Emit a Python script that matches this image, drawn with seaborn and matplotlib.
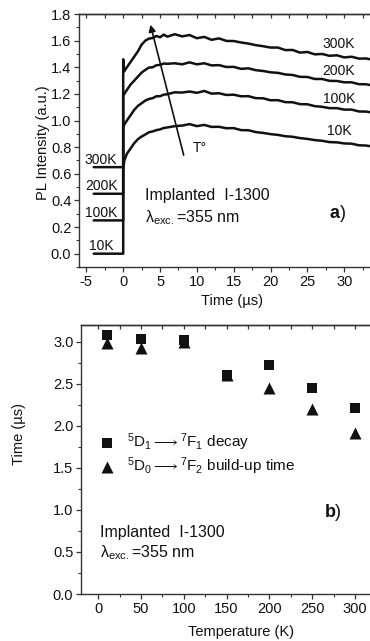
import matplotlib
matplotlib.use("Agg")
import matplotlib.pyplot as plt
import matplotlib.ticker as mticker
import pandas as pd
import seaborn as sns

# panel a) time-resolved PL, curves offset by temperature
TIME = [-4, 0, 0, 0.15, 0.5, 1.0, 1.5, 2.0, 2.5, 3.0, 3.5, 4.0, 4.5, 5, 5.5, 6,
        7, 8, 9, 10, 11, 12, 13, 14, 15, 16, 17, 18, 19, 20, 21, 22, 23, 24, 25,
        26, 27, 28, 29, 30, 31, 32, 33, 34, 35]
INT_300K = [0.65, 0.65, 1.46, 1.37, 1.40, 1.44, 1.48, 1.52, 1.57, 1.60, 1.615, 1.62, 1.635, 1.625, 1.645, 1.63,
            1.648, 1.632, 1.642, 1.618, 1.628, 1.606, 1.617, 1.598, 1.597, 1.586, 1.578, 1.566, 1.558, 1.548,
            1.548, 1.529, 1.53, 1.51, 1.515, 1.497, 1.5, 1.486, 1.49, 1.474, 1.479, 1.465, 1.466, 1.454, 1.456]
INT_200K = [0.45, 0.45, 1.19, 1.20, 1.23, 1.27, 1.30, 1.33, 1.36, 1.38, 1.398, 1.40, 1.415, 1.418, 1.428, 1.426,
            1.43, 1.422, 1.437, 1.422, 1.43, 1.414, 1.416, 1.402, 1.403, 1.388, 1.392, 1.378, 1.372, 1.362,
            1.358, 1.346, 1.342, 1.328, 1.327, 1.312, 1.312, 1.298, 1.297, 1.287, 1.287, 1.273, 1.272, 1.262, 1.262]
INT_100K = [0.25, 0.25, 0.95, 0.97, 1.00, 1.04, 1.08, 1.11, 1.13, 1.15, 1.162, 1.168, 1.182, 1.183, 1.194, 1.198,
            1.212, 1.21, 1.218, 1.208, 1.222, 1.202, 1.205, 1.192, 1.194, 1.182, 1.183, 1.168, 1.167, 1.152,
            1.153, 1.138, 1.137, 1.123, 1.122, 1.108, 1.103, 1.093, 1.093, 1.082, 1.082, 1.068, 1.067, 1.058, 1.056]
INT_10K = [0.0, 0.0, 0.63, 0.70, 0.75, 0.79, 0.83, 0.86, 0.88, 0.895, 0.912, 0.918, 0.928, 0.933, 0.944, 0.948,
           0.958, 0.962, 0.973, 0.958, 0.967, 0.952, 0.953, 0.942, 0.943, 0.928, 0.927, 0.913, 0.907, 0.898,
           0.892, 0.882, 0.878, 0.868, 0.862, 0.853, 0.848, 0.838, 0.836, 0.828, 0.826, 0.814, 0.812, 0.803, 0.801]
CURVE_LABELS = ["300K", "200K", "100K", "10K"]
BASELINES = [0.65, 0.45, 0.25, 0.0]
RIGHT_LABEL_Y = [1.575, 1.37, 1.16, 0.925]

# panel b) lifetimes vs temperature
TEMP = [10, 50, 100, 150, 200, 250, 300]
DECAY = [3.08, 3.03, 3.02, 2.60, 2.72, 2.45, 2.21]
BUILDUP = [2.98, 2.93, 3.00, 2.60, 2.45, 2.20, 1.92]

INK = "#111111"
SPINE = "#333333"

sns.set_style("ticks")
plt.rcParams.update({
    "font.family": ["Liberation Sans", "DejaVu Sans"],
    "mathtext.fontset": "custom",
    "mathtext.rm": "Liberation Sans",
    "mathtext.it": "Liberation Sans:italic",
    "mathtext.bf": "Liberation Sans:bold",
    "axes.unicode_minus": False,
    "axes.edgecolor": SPINE,
    "axes.linewidth": 1.0,
    "xtick.color": SPINE,
    "ytick.color": SPINE,
    "xtick.labelcolor": INK,
    "ytick.labelcolor": INK,
    "text.color": INK,
    "axes.labelcolor": INK,
})

fig = plt.figure(figsize=(3.7, 6.41), dpi=100)
# both panels run off the right edge of the figure, as in the scanned original
ax1 = fig.add_axes([79 / 370, 1 - 267 / 641, 291 / 370, 253 / 641])
ax2 = fig.add_axes([81 / 370, 1 - 594 / 641, 289 / 370, 269 / 641])


def style_axis(ax, xmaj, xmin, ymaj, ymin):
    ax.spines["right"].set_visible(False)
    ax.xaxis.set_major_locator(mticker.MultipleLocator(xmaj))
    ax.xaxis.set_minor_locator(mticker.MultipleLocator(xmin))
    ax.yaxis.set_major_locator(mticker.MultipleLocator(ymaj))
    ax.yaxis.set_minor_locator(mticker.MultipleLocator(ymin))
    ax.yaxis.set_major_formatter(mticker.FormatStrFormatter("%.1f"))
    ax.tick_params(which="major", direction="out", length=3.5, width=0.9, labelsize=10.5, pad=2)
    ax.tick_params(which="minor", direction="out", length=2, width=0.8)
    top = ax.secondary_xaxis("top")
    top.xaxis.set_major_locator(mticker.MultipleLocator(xmin))
    top.tick_params(direction="in", length=3, width=0.9, labeltop=False)


# ---- panel a
rows = []
for label, vals in zip(CURVE_LABELS, [INT_300K, INT_200K, INT_100K, INT_10K]):
    rows.append(pd.DataFrame({"time": TIME, "intensity": vals, "curve": label}))
pl = pd.concat(rows, ignore_index=True)

sns.lineplot(data=pl, x="time", y="intensity", units="curve", estimator=None, sort=False,
             color=INK, linewidth=1.8, ax=ax1)
ax1.set_xlim(-6, 33.5)
ax1.set_ylim(-0.1, 1.8)
style_axis(ax1, 5, 2.5, 0.2, 0.1)
ax1.set_xlabel("Time (µs)", fontsize=10.5)
ax1.set_ylabel("PL Intensity (a.u.)", fontsize=10.5)
ax1.xaxis.set_label_coords(0.526, -0.105)
ax1.yaxis.set_label_coords(-0.10, 0.49)

for label, base in zip(CURVE_LABELS, BASELINES):
    ax1.text(-3.0, base + 0.025, label, ha="center", va="baseline", fontsize=10)
for label, ypos in zip(CURVE_LABELS, RIGHT_LABEL_Y):
    ax1.text(29.3, ypos, label, ha="center", va="center", fontsize=10)

ax1.annotate("", xy=(3.6, 1.74), xytext=(8.3, 0.72),
             arrowprops=dict(arrowstyle="-|>", lw=1.2, color=INK, mutation_scale=10))
ax1.text(9.4, 0.79, "T°", ha="left", va="center", fontsize=10)
ax1.text(2.9, 0.44, "Implanted  I-1300", ha="left", va="center", fontsize=11.5)
ax1.text(2.9, 0.27, r"$\mathregular{\lambda_{exc.}}$=355 nm", ha="left", va="center", fontsize=11.5)
ax1.text(28.0, 0.30, r"$\mathbf{a}$)", ha="left", va="center", fontsize=13)

# ---- panel b
sns.scatterplot(x=TEMP, y=DECAY, marker="s", s=55, color=INK, linewidth=0, ax=ax2,
                label=r"$^{5}$D$_{1}$$\longrightarrow$$^{7}$F$_{1}$ decay")
sns.scatterplot(x=TEMP, y=BUILDUP, marker="^", s=75, color=INK, linewidth=0, ax=ax2,
                label=r"$^{5}$D$_{0}$$\longrightarrow$$^{7}$F$_{2}$ build-up time")
ax2.set_xlim(-20, 317.6)
ax2.set_ylim(0, 3.2)
style_axis(ax2, 50, 25, 0.5, 0.25)
ax2.set_xlabel("Temperature (K)", fontsize=10.5)
ax2.set_ylabel("Time (µs)", fontsize=10.5)
ax2.xaxis.set_label_coords(0.554, -0.115)
ax2.yaxis.set_label_coords(-0.19, 0.595)

ax2.legend(loc="upper left", bbox_to_anchor=(0.065, 0.605), frameon=False, fontsize=11,
           handlelength=1.0, handletextpad=0.8, labelspacing=0.15, borderpad=0, borderaxespad=0)
ax2.text(264, 0.97, r"$\mathbf{b}$)", ha="left", va="center", fontsize=13)
ax2.text(2, 0.73, "Implanted  I-1300", ha="left", va="center", fontsize=11.5)
ax2.text(2, 0.49, r"$\mathregular{\lambda_{exc.}}$=355 nm", ha="left", va="center", fontsize=11.5)

fig.savefig("out.png", dpi=100)
